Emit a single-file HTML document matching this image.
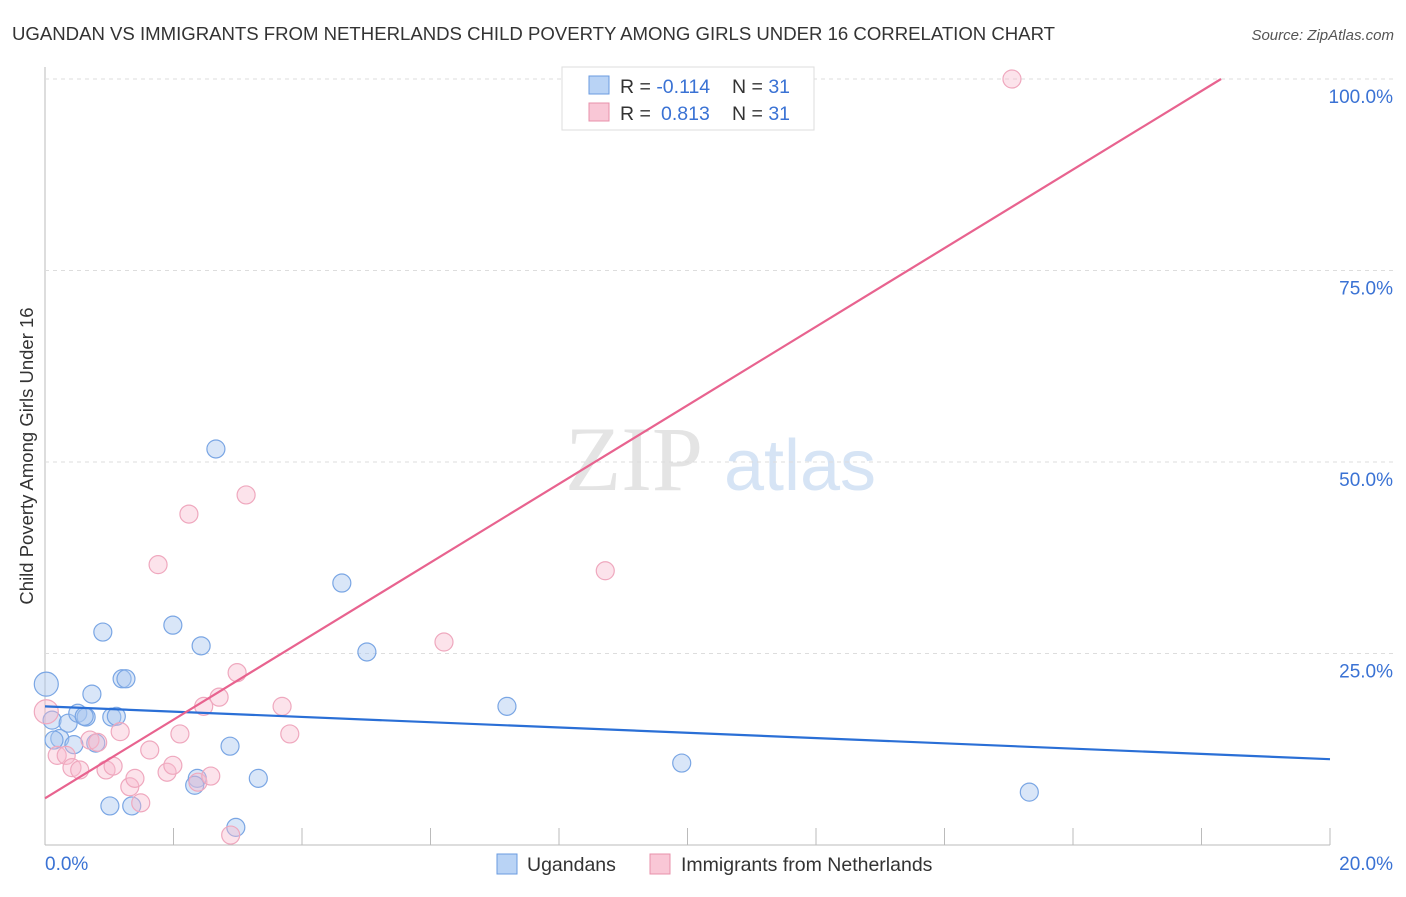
<!DOCTYPE html>
<html><head><meta charset="utf-8"><style>
body{margin:0;background:#fff;font-family:"Liberation Sans",sans-serif}
</style></head><body>
<svg id="c" width="1406" height="892" xmlns="http://www.w3.org/2000/svg" font-family="Liberation Sans, sans-serif">
<text x="12" y="40" font-size="18.6" fill="#333" textLength="1043">UGANDAN VS IMMIGRANTS FROM NETHERLANDS CHILD POVERTY AMONG GIRLS UNDER 16 CORRELATION CHART</text>
<text x="1394" y="40" font-size="15" fill="#555" font-style="italic" text-anchor="end">Source: ZipAtlas.com</text>
<text x="634" y="490" font-size="92" fill="#e4e4e4" text-anchor="middle" font-family="Liberation Serif, serif">ZIP</text>
<text x="800" y="490" font-size="72" fill="#d6e4f5" text-anchor="middle">atlas</text>
<text transform="translate(33,456) rotate(-90)" font-size="18.5" fill="#333" text-anchor="middle">Child Poverty Among Girls Under 16</text>
<g id="grid"></g><g id="pts"></g><g id="lines"></g>
<g>
<rect x="562" y="67" width="252" height="63" fill="#fff" stroke="#ddd"/>
<rect x="589" y="76" width="20" height="18" fill="#b9d3f5" stroke="#6a9be0"/>
<rect x="589" y="103" width="20" height="18" fill="#f9c7d6" stroke="#e890ab"/>
<text x="620" y="93" font-size="19.5" fill="#333">R = <tspan fill="#3a72d4">-0.114</tspan><tspan x="732">N = </tspan><tspan fill="#3a72d4">31</tspan></text>
<text x="620" y="120" font-size="19.5" fill="#333">R = <tspan x="661" fill="#3a72d4">0.813</tspan><tspan x="732">N = </tspan><tspan fill="#3a72d4">31</tspan></text>
</g>
<g>
<rect x="497" y="854" width="20" height="20" fill="#b9d3f5" stroke="#6a9be0"/>
<text x="527" y="871" font-size="19.5" fill="#333">Ugandans</text>
<rect x="650" y="854" width="20" height="20" fill="#f9c7d6" stroke="#e890ab"/>
<text x="681" y="871" font-size="19.5" fill="#333">Immigrants from Netherlands</text>
</g>
</svg>
<script>
const xTickLabels=["0.0%","20.0%"];
const yTicks=[25,50,75,100];
const blueX=[0.02,0.11,0.23,0.36,0.45,0.51,0.64,0.73,0.79,0.90,1.01,1.04,1.11,1.20,1.26,1.35,1.99,2.37,2.33,2.43,2.66,2.88,2.97,3.32,4.62,5.01,7.19,9.91,15.32,0.61,0.14];
const blueY=[21.0,16.3,13.9,15.9,13.1,17.2,16.7,19.7,13.3,27.8,5.1,16.7,16.8,21.7,21.7,5.1,28.7,8.7,7.8,26.0,51.7,12.9,2.3,8.7,34.2,25.2,18.1,10.7,6.9,16.8,13.7];
const pinkX=[0.02,0.19,0.33,0.42,0.54,0.70,0.82,0.95,1.06,1.17,1.32,1.40,1.49,1.63,1.76,1.90,1.99,2.10,2.24,2.38,2.47,2.58,2.71,2.99,2.89,3.13,3.69,3.81,6.21,8.72,15.05];
const pinkY=[17.4,11.7,11.7,10.1,9.8,13.7,13.4,9.8,10.3,14.8,7.6,8.7,5.5,12.4,36.6,9.5,10.4,14.5,43.2,8.2,18.1,9.0,19.3,22.5,1.3,45.7,18.1,14.5,26.5,35.8,100.0];
const blueLine=[18.1,11.2];
const pinkLine=[6.1,5.13];
const NS="http://www.w3.org/2000/svg";
const X=v=>45+v/20*1285, Y=v=>845-v*7.66;
function mk(t,a,p){const e=document.createElementNS(NS,t);for(const k in a)e.setAttribute(k,a[k]);document.getElementById(p).appendChild(e);return e;}
mk('line',{x1:45,y1:67,x2:45,y2:845,stroke:'#bbb'},'grid');
mk('line',{x1:45,y1:845,x2:1330,y2:845,stroke:'#bbb'},'grid');
for(let i=1;i<=10;i++){const l=mk('line',{x1:X(i*2),y1:828,x2:X(i*2),y2:845,stroke:'#bbb'},'grid');

}
yTicks.forEach(t=>{const l=mk('line',{x1:45,y1:Y(t),x2:1394,y2:Y(t),stroke:'#ddd','stroke-dasharray':'4,4'},'grid');


const tx=mk('text',{x:1393,y:Y(t)+24,'font-size':19,fill:'#3a72d4','text-anchor':'end'},'grid');tx.textContent=t.toFixed(1)+'%';

});
const a=mk('text',{x:45,y:870,'font-size':19,fill:'#3a72d4'},'grid');a.textContent=xTickLabels[0];


const b=mk('text',{x:1393,y:870,'font-size':19,fill:'#3a72d4','text-anchor':'end'},'grid');b.textContent=xTickLabels[1];


blueX.forEach((x,i)=>{const c=mk('circle',{cx:X(x),cy:Y(blueY[i]),r:i==0?12:9,fill:'rgba(170,200,240,0.45)',stroke:'#7aa6e4','stroke-width':1.2},'pts');

});
pinkX.forEach((x,i)=>{const c=mk('circle',{cx:X(x),cy:Y(pinkY[i]),r:i==0?12:9,fill:'rgba(247,185,205,0.4)',stroke:'#efa8be','stroke-width':1.2},'pts');

});
const bl=mk('line',{x1:X(0),y1:Y(blueLine[0]),x2:X(20),y2:Y(blueLine[1]),stroke:'#2a6fd6','stroke-width':2.2},'lines');


const xe=(100-pinkLine[0])/pinkLine[1];
const pl=mk('line',{x1:X(0),y1:Y(pinkLine[0]),x2:X(xe),y2:Y(100),stroke:'#e8638f','stroke-width':2.2},'lines');


</script>
</body></html>
